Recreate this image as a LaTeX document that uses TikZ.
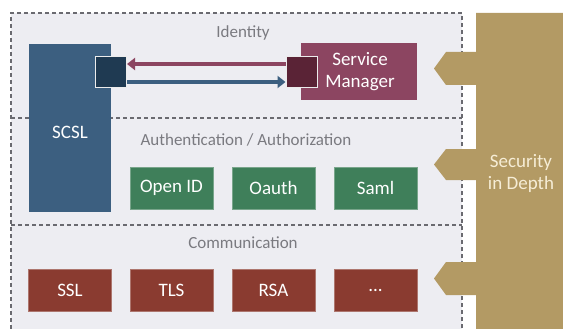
\documentclass[tikz,border=0pt]{standalone}
\usepackage{fontspec}
\setmainfont{Carlito}
\definecolor{panel}{HTML}{EDEDF2}
\definecolor{dashc}{HTML}{6A6A70}
\definecolor{scslc}{HTML}{3C5F80}
\definecolor{scsldark}{HTML}{1F3A52}
\definecolor{smc}{HTML}{8C4561}
\definecolor{smdark}{HTML}{5A2336}
\definecolor{greenc}{HTML}{3F7F5A}
\definecolor{redc}{HTML}{8A3B30}
\definecolor{goldc}{HTML}{B39A64}
\definecolor{labelc}{HTML}{7A7A80}
\definecolor{creamc}{HTML}{F6EDD6}
\usetikzlibrary{arrows.meta}
\tikzset{
  dashline/.style={draw=dashc, line width=1.1pt, dash pattern=on 4pt off 3pt},
  seclabel/.style={text=labelc, font=\fontsize{17}{20}\selectfont, inner sep=0pt},
  boxtext/.style={text=white, font=\fontsize{19}{22}\selectfont, inner sep=0pt, align=center},
  smallbox/.style={boxtext, minimum width=83pt, minimum height=42pt},
  greenbox/.style={smallbox, fill=greenc, draw=greenc!70!white, line width=0.6pt},
  redbox/.style={smallbox, fill=redc, draw=redc!70!white, line width=0.6pt},
  portsq/.style={minimum width=31pt, minimum height=31pt, inner sep=0pt, draw=white!85!gray, line width=1pt},
  flowarrow/.style={line width=4.5pt, -{Triangle[length=8pt,width=12pt]}},
}
\begin{document}
\begin{tikzpicture}[x=1pt,y=-1pt]
\useasboundingbox (0,0) rectangle (563,329);
% panel
\fill[panel] (11,13) rectangle (462,329);
\draw[dashline] (11,329) -- (11,13) -- (462,13) -- (462,329);
\draw[dashline] (11,118) -- (462,118);
\draw[dashline] (11,225) -- (462,225);
% section labels
\node[seclabel] (lid) at (243,33) {Identity};
\node[seclabel] (lauth) at (246,140) {Authentication / Authorization};
\node[seclabel] (lcom) at (243,243) {Communication};
% SCSL
\node[boxtext, fill=scslc, minimum width=82pt, minimum height=168pt, anchor=north west] (scsl) at (29,44) {};
\node[boxtext] (scsltext) at (70,132) {SCSL};
% Service manager
\node[boxtext, fill=smc, minimum width=116pt, minimum height=57pt] (sm) at (359,71.5) {\hspace*{2pt}Service\\\hspace*{2pt}Manager};
% ports
\node[portsq, fill=scsldark] (p1) at (111,72.5) {};
\node[portsq, fill=smdark] (p2) at (301.5,72.5) {};
% arrows
\draw[flowarrow, draw=smc] (p2.west |- 0,64) -- (p1.east |- 0,64);
\draw[flowarrow, draw=scslc] (p1.east |- 0,82) -- (p2.west |- 0,82);
% green
\node[greenbox] (openid) at (171.5,188) {Open ID};
\node[greenbox] (oauth) at (273.5,188) {Oauth};
\node[greenbox] (saml) at (375.5,188) {Saml};
% red
\node[redbox] (ssl) at (70,290) {SSL};
\node[redbox] (tls) at (171.5,290) {TLS};
\node[redbox] (rsa) at (273.5,290) {RSA};
\node[redbox] (more) at (375.5,290) {...};
% gold
\fill[goldc] (476,13) -- (570,13) -- (570,329) -- (476,329) -- (476,295)
  -- (446,295) -- (434,278.5) -- (446,262) -- (476,262) -- (476,180)
  -- (446,180) -- (434,164.5) -- (446,149) -- (476,149) -- (476,85)
  -- (446,85) -- (434,68.5) -- (446,52) -- (476,52) -- cycle;
\node[boxtext, text=creamc] (sid) at (521,173) {Security\\in Depth};
\end{tikzpicture}
\end{document}
